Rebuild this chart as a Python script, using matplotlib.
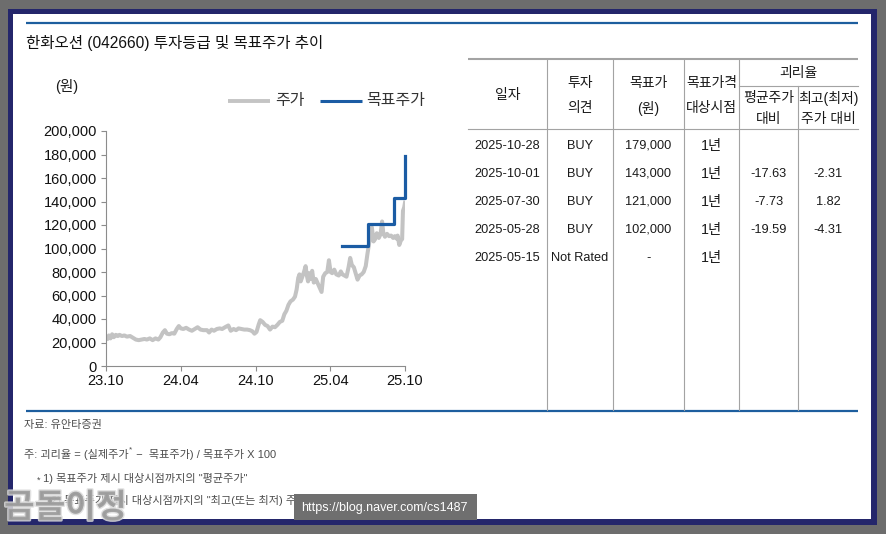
import matplotlib
matplotlib.use('Agg')
import matplotlib.pyplot as plt
import matplotlib.patheffects as pe
from matplotlib.patches import Rectangle
import pandas as pd

plt.rcParams['font.family'] = ['Liberation Sans', 'Noto Sans CJK KR', 'DejaVu Sans']

# ---- chart data ----
price_dates = [
    '2023-10-28', '2023-11-01', '2023-11-04', '2023-11-08', '2023-11-12', '2023-11-16',
    '2023-11-21', '2023-11-26', '2023-11-30', '2023-12-06', '2023-12-12', '2023-12-18',
    '2023-12-26', '2024-01-02', '2024-01-09', '2024-01-16', '2024-01-23', '2024-01-30',
    '2024-02-05', '2024-02-12', '2024-02-19', '2024-02-26', '2024-03-04', '2024-03-09',
    '2024-03-15', '2024-03-20', '2024-03-25', '2024-03-31', '2024-04-06', '2024-04-12',
    '2024-04-18', '2024-04-23', '2024-04-28', '2024-05-04', '2024-05-11', '2024-05-18',
    '2024-05-25', '2024-06-01', '2024-06-08', '2024-06-15', '2024-06-22', '2024-07-01',
    '2024-07-06', '2024-07-12', '2024-07-18', '2024-07-25', '2024-08-01', '2024-08-07',
    '2024-08-14', '2024-08-22', '2024-08-28', '2024-09-04', '2024-09-10', '2024-09-16',
    '2024-09-23', '2024-09-30', '2024-10-07', '2024-10-14', '2024-10-20', '2024-10-25',
    '2024-10-30', '2024-11-04', '2024-11-08', '2024-11-14', '2024-11-20', '2024-11-26',
    '2024-12-02', '2024-12-08', '2024-12-14', '2024-12-20', '2024-12-26', '2025-01-01',
    '2025-01-06', '2025-01-11', '2025-01-16', '2025-01-21', '2025-01-27', '2025-02-01',
    '2025-02-05', '2025-02-09', '2025-02-12', '2025-02-15', '2025-02-19', '2025-02-23',
    '2025-02-27', '2025-03-02', '2025-03-05', '2025-03-08', '2025-03-11', '2025-03-15',
    '2025-03-19', '2025-03-24', '2025-03-29', '2025-04-03', '2025-04-07', '2025-04-11',
    '2025-04-16', '2025-04-21', '2025-04-25', '2025-04-29', '2025-05-03', '2025-05-08',
    '2025-05-13', '2025-05-19', '2025-05-24', '2025-05-28', '2025-06-02', '2025-06-07',
    '2025-06-12', '2025-06-16', '2025-06-20', '2025-06-25', '2025-06-30', '2025-07-04',
    '2025-07-09', '2025-07-14', '2025-07-19', '2025-07-24', '2025-07-28', '2025-08-01',
    '2025-08-05', '2025-08-08', '2025-08-12', '2025-08-16', '2025-08-20', '2025-08-25',
    '2025-08-29', '2025-09-02', '2025-09-05', '2025-09-09', '2025-09-14', '2025-09-19',
    '2025-09-24', '2025-09-29', '2025-10-03', '2025-10-07', '2025-10-10', '2025-10-14',
    '2025-10-18', '2025-10-21', '2025-10-23', '2025-10-26', '2025-10-28',
]
price_values = [
    24000, 23000, 26000, 23500, 27000, 24500,
    26500, 25500, 26500, 25500, 26000, 25000,
    25500, 24000, 22500, 22000, 22500, 23000,
    22500, 23500, 22000, 23500, 22500, 24500,
    28500, 30500, 27500, 27000, 28000, 27500,
    31500, 34000, 32000, 31500, 32500, 31000,
    30000, 31500, 33000, 31000, 30500, 30500,
    28500, 31000, 30000, 31500, 32000, 31500,
    33000, 34500, 30000, 31500, 30500, 32000,
    31500, 31000, 31000, 30500, 29500, 27500,
    29000, 35000, 39000, 37500, 35000, 34000,
    31000, 33500, 33000, 35000, 37500, 38500,
    44000, 47000, 52000, 55000, 56500, 59000,
    65000, 75000, 78000, 72000, 76000, 80000,
    85000, 77000, 72000, 79000, 74000, 81000,
    71000, 74000, 70000, 66000, 63000, 76000,
    79000, 80000, 90000, 80000, 79000, 82000,
    78000, 77000, 80500, 78000, 77000, 76000,
    84000, 92000, 86000, 84000, 78000, 73500,
    77000, 78000, 80000, 85000, 95000, 104000,
    112000, 118000, 106000, 108000, 113000, 109000,
    112000, 123000, 113000, 110000, 112500, 110500,
    111000, 109000, 110500, 108500, 111000, 103000,
    107000, 108000, 132000, 135000, 139000,
]
target_dates = ['2025-05-28', '2025-07-30', '2025-10-01', '2025-10-28']
target_values = [102000, 121000, 143000, 179000]

tick_dates = ['2023-10-28', '2024-04-28', '2024-10-28', '2025-04-28', '2025-10-28']
tick_labels = ['23.10', '24.04', '24.10', '25.04', '25.10']
y_ticks = [0, 20000, 40000, 60000, 80000, 100000, 120000, 140000, 160000, 180000, 200000]

# ---- table data ----
col_headers = [['일자'], ['투자', '의견'], ['목표가', '(원)'], ['목표가격', '대상시점']]
gap_header = '괴리율'
gap_sub_headers = [['평균주가', '대비'], ['최고(최저)', '주가 대비']]
tbl_dates = ['2025-10-28', '2025-10-01', '2025-07-30', '2025-05-28', '2025-05-15']
tbl_opinion = ['BUY', 'BUY', 'BUY', 'BUY', 'Not Rated']
tbl_target = ['179,000', '143,000', '121,000', '102,000', '-']
tbl_horizon = ['1년', '1년', '1년', '1년', '1년']
tbl_avg_gap = ['', '-17.63', '-7.73', '-19.59', '']
tbl_max_gap = ['', '-2.31', '1.82', '-4.31', '']

title = '한화오션 (042660) 투자등급 및 목표주가 추이'
source = '자료: 유안타증권'
note1a = '주: 괴리율 = (실제주가'
note1b = ' −  목표주가) / 목표주가 X 100'
note2 = '1) 목표주가 제시 대상시점까지의 "평균주가"'
note3 = '2) 목표주가 제시 대상시점까지의 "최고(또는 최저) 주가"'

BLUE = '#1b5ca4'
LINE_BLUE = '#1d5e9e'
GRID = '#a3a3a3'
TXT = '#1a1a1a'
NOTE = '#4d4d4d'

W, H = 886, 534
fig = plt.figure(figsize=(W / 100, H / 100), dpi=100, facecolor='#6d6d6d')

# background / frame layer in pixel coordinates
bg = fig.add_axes([0, 0, 1, 1])
bg.set_xlim(0, W)
bg.set_ylim(H, 0)
bg.axis('off')
bg.add_patch(Rectangle((8, 9), 869, 516, facecolor='#24266b', edgecolor='none'))
bg.add_patch(Rectangle((13, 14), 858, 505, facecolor='white', edgecolor='none'))

# top and bottom rules
bg.plot([26, 858], [22.5, 22.5], color=LINE_BLUE, lw=1.6, solid_capstyle='butt')
bg.plot([26, 858], [410.5, 410.5], color=LINE_BLUE, lw=1.6, solid_capstyle='butt')
bg.text(26, 43, title, fontsize=11.2, color='#111111', va='center', ha='left')

# ---- table ----
edges = [468, 547, 613, 684, 739, 798, 858]
centers = [(edges[i] + edges[i + 1]) / 2 for i in range(len(edges) - 1)]
bg.plot([468, 858], [58.5, 58.5], color=GRID, lw=1.5, solid_capstyle='butt')
bg.plot([468, 858], [129, 129], color=GRID, lw=0.8)
bg.plot([739, 858], [86, 86], color=GRID, lw=0.8)
for x in edges[1:5]:
    bg.plot([x, x], [59, 410], color=GRID, lw=0.8)
bg.plot([798, 798], [86, 410], color=GRID, lw=0.8)

hfs = 10
for i, lines in enumerate(col_headers):
    if len(lines) == 1:
        bg.text(centers[i], 95, lines[0], fontsize=hfs, ha='center', va='center', color=TXT)
    else:
        bg.text(centers[i], 83, lines[0], fontsize=hfs, ha='center', va='center', color=TXT)
        bg.text(centers[i], 108, lines[1], fontsize=hfs, ha='center', va='center', color=TXT)
bg.text((739 + 858) / 2, 73, gap_header, fontsize=hfs, ha='center', va='center', color=TXT)
for j, lines in enumerate(gap_sub_headers):
    bg.text(centers[4 + j], 98, lines[0], fontsize=hfs, ha='center', va='center', color=TXT)
    bg.text(centers[4 + j], 119, lines[1], fontsize=hfs, ha='center', va='center', color=TXT)

row_y = [146, 174, 202, 230, 258]
columns = [tbl_dates, tbl_opinion, tbl_target, tbl_horizon, tbl_avg_gap, tbl_max_gap]
for c, col in enumerate(columns):
    fs = 10.3 if col is tbl_horizon else 9.2
    for r, val in enumerate(col):
        bg.text(centers[c], row_y[r], val, fontsize=fs, ha='center', va='center', color=TXT)

# ---- notes ----
nfs = 8
bg.text(24, 425, source, fontsize=nfs, color=NOTE, va='center', ha='left')
t1 = bg.text(24, 455, note1a, fontsize=nfs, color=NOTE, va='center', ha='left')
fig.canvas.draw()
bb = t1.get_window_extent()
x_end = bg.transData.inverted().transform((bb.x1, bb.y0))[0]
bg.text(x_end + 0.5, 450, '*', fontsize=6, color=NOTE, va='center', ha='left')
bg.text(x_end + 4, 455, note1b, fontsize=nfs, color=NOTE, va='center', ha='left')
bg.text(37, 480, '*', fontsize=6.5, color=NOTE, va='center', ha='left')
bg.text(43, 479, note2, fontsize=nfs, color=NOTE, va='center', ha='left')
bg.text(51, 501, note3, fontsize=nfs, color=NOTE, va='center', ha='left')

# legend and unit
bg.text(55, 87, '(원)', fontsize=10.5, color=TXT, va='center', ha='left')
bg.plot([228, 270], [101, 101], color='#c4c4c4', lw=2.8, solid_capstyle='butt')
bg.text(275, 101, '주가', fontsize=11.5, color='#333333', va='center', ha='left')
bg.plot([320, 362], [101, 101], color=BLUE, lw=2.2, solid_capstyle='butt')
bg.text(366, 101, '목표주가', fontsize=11.5, color='#333333', va='center', ha='left')

# ---- price chart ----
ax = fig.add_axes([106 / W, 1 - 366 / H, (405 - 106) / W, (366 - 131) / H])
ax.patch.set_alpha(0)
px = pd.to_datetime(price_dates)
tx = pd.to_datetime(target_dates)
ax.plot(px, price_values, color='#c3c3c3', lw=2.9, solid_joinstyle='round', zorder=2)
ax.step(tx, target_values, where='post', color=BLUE, lw=2.3, zorder=3, clip_on=False)

ax.set_xlim(pd.Timestamp(tick_dates[0]), pd.Timestamp(tick_dates[-1]))
ax.set_ylim(0, 200000)
ax.set_xticks(pd.to_datetime(tick_dates))
ax.set_xticklabels(tick_labels)
ax.set_yticks(y_ticks)
ax.set_yticklabels([f'{v:,}' for v in y_ticks])
for s in ['top', 'right']:
    ax.spines[s].set_visible(False)
for s in ['left', 'bottom']:
    ax.spines[s].set_color('#8c8c8c')
    ax.spines[s].set_linewidth(0.8)
ax.tick_params(axis='both', direction='out', length=3.6, width=0.8, color='#8c8c8c',
               labelsize=10.5, labelcolor='#111111')
ax.tick_params(axis='y', pad=3)
ax.tick_params(axis='x', pad=2.5)

# ---- watermarks ----
bg.add_patch(Rectangle((294, 494), 183, 26, facecolor='#6f6f6f', edgecolor='none', zorder=5))
bg.text(301, 507.5, 'https://blog.naver.com/cs1487', fontsize=9, color='white',
        va='center', ha='left', zorder=6)
bg.text(4, 509, '곰돌이정', fontsize=24, fontweight='bold', color='#9a9a9a', alpha=0.85,
        va='center', ha='left', zorder=6,
        path_effects=[pe.withStroke(linewidth=2, foreground='#dcdcdc')])

fig.savefig('out.png', dpi=100, facecolor=fig.get_facecolor())
